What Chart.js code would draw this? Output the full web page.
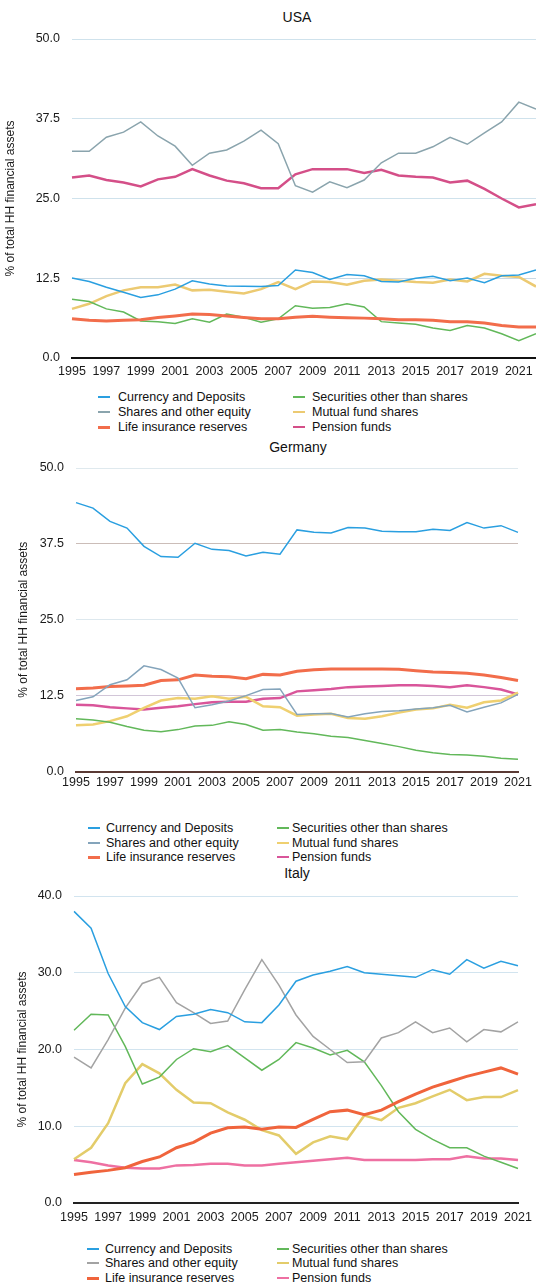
<!DOCTYPE html>
<html>
<head>
<meta charset="utf-8">
<script src="https://cdn.jsdelivr.net/npm/chart.js@4.4.1/dist/chart.umd.min.js"></script>
<style>
  html, body { margin:0; padding:0; background:#fff; }
  body { width:536px; height:1287px; overflow:hidden; position:relative; font-family:"Liberation Sans", Arial, Helvetica, sans-serif; color:#111; }
  canvas { position:absolute; left:0; }
  .ttl { position:absolute; font-size:14px; line-height:16px; transform:translateX(-50%); white-space:nowrap; color:#111; }
  .lg-text { position:absolute; font-size:12.5px; line-height:15px; white-space:nowrap; color:#111; }
  .lg-mark { position:absolute; width:12px; }
</style>
</head>
<body>
<script>
// ---------------- data ----------------
const seriesNames = ['Currency and Deposits','Shares and other equity','Life insurance reserves',
  'Securities other than shares','Mutual fund shares','Pension funds'];

const usaYears = ['1995','1996','1997','1998','1999','2000','2001','2002','2003','2004','2005','2006','2007',
  '2008','2009','2010','2011','2012','2013','2014','2015','2016','2017','2018','2019','2020','2021','2022'];
const euYears = ['1995','1996','1997','1998','1999','2000','2001','2002','2003','2004','2005','2006','2007',
  '2008','2009','2010','2011','2012','2013','2014','2015','2016','2017','2018','2019','2020','2021'];

const usaCurrency   = [12.55,12.0,11.1,10.3,9.5,9.9,10.8,12.1,11.6,11.3,11.25,11.2,11.35,13.8,13.4,12.3,13.1,12.9,12.0,11.9,12.5,12.8,12.1,12.55,11.8,12.9,13.0,13.8];
const usaShares     = [32.4,32.4,34.6,35.4,37.0,34.8,33.2,30.2,32.1,32.6,34.0,35.7,33.6,27.0,26.0,27.6,26.7,27.9,30.6,32.1,32.1,33.1,34.6,33.5,35.3,37.0,40.1,39.0];
const usaLife       = [6.15,5.9,5.8,5.9,6.0,6.35,6.6,6.9,6.8,6.6,6.35,6.15,6.15,6.4,6.55,6.4,6.3,6.25,6.15,6.0,6.0,5.9,5.7,5.7,5.5,5.1,4.85,4.85];
const usaSecurities = [9.2,8.85,7.7,7.2,5.8,5.7,5.4,6.15,5.6,6.9,6.4,5.6,6.15,8.2,7.8,7.9,8.5,8.0,5.7,5.5,5.3,4.7,4.3,5.1,4.7,3.8,2.7,3.8];
const usaMutual     = [7.7,8.5,9.7,10.6,11.1,11.1,11.5,10.6,10.7,10.4,10.1,10.8,11.9,10.8,12.0,11.9,11.5,12.1,12.3,12.1,11.9,11.8,12.3,12.0,13.2,12.9,12.7,11.2];
const usaPension    = [28.3,28.6,27.9,27.5,26.9,28.0,28.4,29.6,28.6,27.8,27.4,26.6,26.6,28.8,29.6,29.6,29.6,29.0,29.5,28.6,28.4,28.3,27.5,27.8,26.5,25.0,23.6,24.1];

const deCurrency   = [44.3,43.4,41.2,40.1,37.1,35.4,35.3,37.6,36.6,36.4,35.5,36.1,35.8,39.8,39.4,39.3,40.2,40.1,39.6,39.5,39.5,39.9,39.7,41.0,40.1,40.5,39.4];
const deShares     = [11.7,12.3,14.3,15.1,17.4,16.8,15.4,10.5,11.0,11.6,12.5,13.5,13.6,9.4,9.5,9.55,9.0,9.5,9.9,10.0,10.3,10.5,10.9,9.8,10.6,11.3,12.7];
const deLife       = [13.65,13.75,14.0,14.1,14.2,15.0,15.1,15.9,15.7,15.6,15.3,16.0,15.9,16.5,16.75,16.9,16.9,16.9,16.9,16.85,16.6,16.4,16.3,16.2,15.9,15.5,15.0];
const deSecurities = [8.7,8.5,8.1,7.4,6.8,6.55,6.9,7.5,7.6,8.2,7.75,6.8,6.9,6.5,6.2,5.8,5.6,5.1,4.6,4.1,3.5,3.1,2.8,2.7,2.5,2.2,2.0];
const deMutual     = [7.6,7.75,8.3,9.1,10.5,11.7,12.1,12.0,12.4,12.0,12.3,10.75,10.6,9.2,9.4,9.5,8.8,8.7,9.1,9.7,10.2,10.4,11.0,10.5,11.4,11.7,13.0];
const dePension    = [11.0,10.9,10.6,10.4,10.2,10.5,10.75,11.1,11.4,11.5,11.5,12.0,12.1,13.2,13.4,13.6,13.9,14.0,14.1,14.2,14.2,14.1,13.9,14.2,13.9,13.5,12.7];

const itCurrency   = [38.0,35.8,29.9,25.6,23.5,22.6,24.3,24.6,25.2,24.8,23.6,23.5,25.8,28.9,29.7,30.2,30.8,30.0,29.8,29.6,29.4,30.4,29.8,31.7,30.6,31.5,30.9];
const itShares     = [19.0,17.6,21.3,25.4,28.6,29.4,26.1,24.8,23.4,23.7,27.8,31.7,28.4,24.5,21.7,20.0,18.3,18.4,21.5,22.2,23.6,22.2,22.8,21.0,22.6,22.3,23.6];
const itLife       = [3.7,4.0,4.25,4.6,5.4,6.0,7.2,7.9,9.1,9.8,9.9,9.6,9.9,9.85,10.9,11.9,12.1,11.5,12.1,13.2,14.2,15.1,15.8,16.5,17.05,17.6,16.8];
const itSecurities = [22.5,24.6,24.5,20.4,15.5,16.4,18.7,20.1,19.7,20.5,18.9,17.3,18.7,20.9,20.2,19.3,19.9,18.4,15.3,11.9,9.6,8.3,7.2,7.2,6.1,5.3,4.5];
const itMutual     = [5.7,7.2,10.4,15.6,18.1,16.9,14.75,13.1,13.0,11.8,10.85,9.5,8.8,6.4,7.9,8.7,8.3,11.4,10.8,12.4,13.0,13.9,14.75,13.4,13.8,13.8,14.7];
const itPension    = [5.6,5.3,4.9,4.6,4.5,4.5,4.9,4.95,5.1,5.1,4.9,4.9,5.1,5.3,5.5,5.7,5.9,5.6,5.6,5.6,5.6,5.7,5.7,6.1,5.8,5.8,5.6];

const yTicksUSA = [0, 12.5, 25, 37.5, 50];
const yTicksDE  = [0, 12.5, 25, 37.5, 50];
const yTicksIT  = [0, 10, 20, 30, 40];
const yTitle = '% of total HH financial assets';

// ---------------- styles ----------------
const lineWidths = [1.5, 1.5, 3, 1.5, 2.5, 2.5];

const panels = [
  { title:'USA', titleX:297, titleY:9, labels:usaYears,
    values:[usaCurrency, usaShares, usaLife, usaSecurities, usaMutual, usaPension],
    colors:['#2a9fe0','#8aa4ad','#f26d4b','#62b85a','#ecca72','#d44f88'],
    yTicks:yTicksUSA, top:27, height:354, padL:3, padR:0, axisW:69, xPad:6,
    gridColors:['#000','#c9d9e4','#cfe2ec','#cfe2ec','#cfe2ec'], zeroColor:'#111',
    legend:{ rows:[397,412,427], mark:[98,293], text:[118,312] } },
  { title:'Germany', titleX:298, titleY:439, labels:euYears,
    values:[deCurrency, deShares, deLife, deSecurities, deMutual, dePension],
    colors:['#2a9fe0','#84a4bb','#f26d4b','#62b85a','#efd070','#d9559a'],
    yTicks:yTicksDE, top:456, height:336, padL:16, padR:18, axisW:60, xPad:3.5,
    gridColors:['#000','#d2c6d8','#dde8ee','#cbbdb8','#dfe9ee'], zeroColor:'#5a3a34',
    legend:{ rows:[828,843,857], mark:[88,277], text:[106,292] } },
  { title:'Italy', titleX:297, titleY:865, labels:euYears,
    values:[itCurrency, itShares, itLife, itSecurities, itMutual, itPension],
    colors:['#2a9fe0','#a3a3a3','#f0643c','#62b85a','#e3cc6a','#ee70a2'],
    yTicks:yTicksIT, top:884, height:343, padL:15, padR:18, axisW:59, xPad:7,
    gridColors:['#000','#d2e4ef','#d2e4ef','#d2e4ef','#d2e4ef'], zeroColor:'#222',
    legend:{ rows:[1249,1263,1278], mark:[87,277], text:[105,292] } }
];

function makePanel(p) {
  const t = document.createElement('div');
  t.className = 'ttl'; t.textContent = p.title;
  t.style.left = p.titleX + 'px'; t.style.top = p.titleY + 'px';
  document.body.appendChild(t);

  const cv = document.createElement('canvas');
  cv.width = 536; cv.height = p.height;
  cv.style.top = p.top + 'px';
  cv.style.width = '536px'; cv.style.height = p.height + 'px';
  document.body.appendChild(cv);

  const datasets = seriesNames.map((name, i) => ({
    label: name,
    data: p.values[i],
    borderColor: p.colors[i],
    backgroundColor: p.colors[i],
    borderWidth: lineWidths[i],
    pointRadius: 0,
    tension: 0,
    fill: false
  }));

  const yMax = p.yTicks[p.yTicks.length - 1];
  const step = p.yTicks[1] - p.yTicks[0];

  const chart = new Chart(cv.getContext('2d'), {
    type: 'line',
    data: { labels: p.labels, datasets },
    options: {
      responsive: false,
      animation: false,
      devicePixelRatio: 1,
      layout: { padding: { top: 12, bottom: 2, left: p.padL, right: p.padR } },
      plugins: { legend: { display: false }, title: { display: false }, tooltip: { enabled: false } },
      scales: {
        x: {
          afterFit: (scale) => { scale.paddingRight = 0; scale.height = p.xPad + 15; },
          grid: { display: false, drawTicks: false },
          border: { display: true, color: p.zeroColor, width: 2 },
          ticks: {
            autoSkip: false, maxRotation: 0, minRotation: 0, padding: p.xPad,
            color: '#1a1a1a', font: { family: '"Liberation Sans", Arial, sans-serif', size: 12.5 },
            callback: function(v, i) { return i % 2 === 0 ? this.getLabelForValue(v) : ''; }
          }
        },
        y: {
          min: 0, max: yMax,
          afterFit: (scale) => { scale.width = p.axisW; scale.paddingTop = 0; scale.paddingBottom = 0; },
          border: { display: false },
          grid: {
            drawTicks: false,
            lineWidth: 1,
            color: (ctx) => {
              const idx = p.yTicks.indexOf(ctx.tick ? ctx.tick.value : -1);
              return idx > 0 ? p.gridColors[idx] : 'rgba(0,0,0,0)';
            }
          },
          ticks: {
            stepSize: step, padding: 12, color: '#1a1a1a',
            font: { family: '"Liberation Sans", Arial, sans-serif', size: 12.5 },
            callback: (v) => Number(v).toFixed(1)
          },
          title: {
            display: true, text: yTitle, color: '#1a1a1a', padding: 0,
            font: { family: '"Liberation Sans", Arial, sans-serif', size: 12 }
          }
        }
      }
    }
  });

  // legend (HTML, built from the chart's datasets)
  chart.data.datasets.forEach((ds, i) => {
    const col = i < 3 ? 0 : 1, row = i % 3;
    const cy = p.legend.rows[row];
    const h = Math.max(1.5, ds.borderWidth);
    const m = document.createElement('div');
    m.className = 'lg-mark';
    m.style.left = p.legend.mark[col] + 'px';
    m.style.top = (cy - h / 2) + 'px';
    m.style.height = h + 'px';
    m.style.background = ds.borderColor;
    document.body.appendChild(m);
    const s = document.createElement('div');
    s.className = 'lg-text';
    s.textContent = ds.label;
    s.style.left = p.legend.text[col] + 'px';
    s.style.top = (cy - 7.5) + 'px';
    document.body.appendChild(s);
  });
}

panels.forEach(makePanel);
</script>
</body>
</html>
